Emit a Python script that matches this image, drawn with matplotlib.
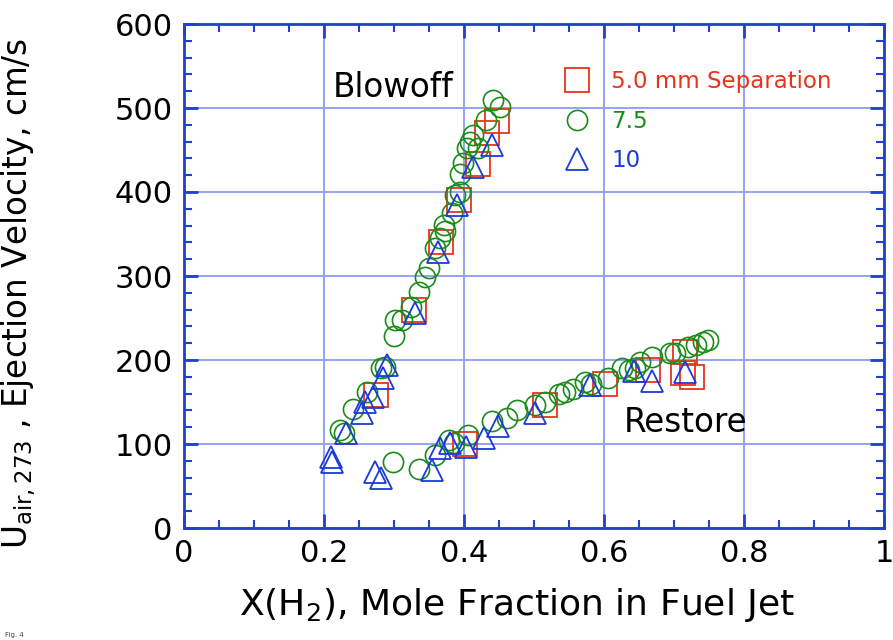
import matplotlib
matplotlib.use("Agg")
import matplotlib.pyplot as plt
from matplotlib.ticker import MultipleLocator

# 5.0 mm separation (squares)
sq_x = [0.275, 0.329, 0.367, 0.393, 0.420, 0.433, 0.447,
        0.401, 0.515, 0.602, 0.663, 0.713, 0.716, 0.726]
sq_y = [158, 260, 340, 391, 433, 470, 484,
        100, 146, 171, 188, 184, 209, 180]

# 7.5 mm separation (circles)
ci_x = [0.223, 0.228, 0.242, 0.261, 0.282, 0.287, 0.300, 0.301, 0.311, 0.324,
        0.336, 0.344, 0.350, 0.359, 0.366, 0.371, 0.373, 0.383, 0.387, 0.394,
        0.394, 0.399, 0.404, 0.409, 0.420, 0.413, 0.431, 0.442, 0.451,
        0.299, 0.336, 0.358, 0.378, 0.385, 0.405, 0.440, 0.461, 0.476, 0.501,
        0.516, 0.536, 0.544, 0.556, 0.573, 0.582, 0.606, 0.625, 0.635, 0.644,
        0.651, 0.668, 0.694, 0.701, 0.720, 0.732, 0.742, 0.749]
ci_y = [117, 113, 142, 162, 190, 192, 229, 248, 248, 263,
        281, 299, 309, 333, 345, 361, 353, 375, 396, 400,
        421, 434, 452, 460, 452, 468, 486, 510, 501,
        79, 70, 87, 105, 101, 111, 127, 131, 141, 146,
        150, 160, 162, 165, 174, 172, 178, 190, 188, 190,
        198, 204, 208, 208, 216, 218, 222, 224]

# 10 mm separation (triangles)
tr_x = [0.210, 0.211, 0.232, 0.255, 0.258, 0.270, 0.285, 0.290, 0.330, 0.363,
        0.390, 0.413, 0.440,
        0.273, 0.282, 0.354, 0.366, 0.380, 0.403, 0.428, 0.448, 0.501, 0.580,
        0.643, 0.668, 0.716]
tr_y = [85, 79, 113, 137, 150, 156, 178, 194, 256, 329,
        385, 430, 456,
        67, 59, 69, 95, 101, 96, 107, 121, 137, 170,
        187, 175, 186]

red = '#e8341c'
green = '#1a8c1a'
blue = '#1a3adb'
axis_blue = '#2040d0'
grid_blue = '#8c9cf0'

fig = plt.figure(figsize=(8.93, 6.4), dpi=100)
ax = fig.add_axes([0.206, 0.175, 0.784, 0.7875])

ax.plot(sq_x, sq_y, 's', ms=17, mfc='none', mec=red, mew=1.3, label='5.0 mm Separation')
ax.plot(ci_x, ci_y, 'o', ms=14.5, mfc='none', mec=green, mew=1.2, label='7.5')
ax.plot(tr_x, tr_y, '^', ms=16, mfc='none', mec=blue, mew=1.3, label='10')

ax.set_xlim(0, 1)
ax.set_ylim(0, 600)
ax.xaxis.set_minor_locator(MultipleLocator(0.05))
ax.yaxis.set_major_locator(MultipleLocator(100))
ax.yaxis.set_minor_locator(MultipleLocator(20))
ax.set_xticks([0, 0.2, 0.4, 0.6, 0.8, 1.0])
ax.set_xticklabels(['0', '0.2', '0.4', '0.6', '0.8', '1'])

ax.grid(True, which='major', color=grid_blue, lw=1.3)
ax.set_axisbelow(True)
for s in ax.spines.values():
    s.set_color(axis_blue)
    s.set_linewidth(2)
ax.tick_params(which='both', direction='in', top=True, right=True, color=axis_blue,
               labelsize=22, pad=8)
ax.tick_params(which='major', length=10, width=2)
ax.tick_params(which='minor', length=6, width=1.5)

ax.set_xlabel('X(H$_2$), Mole Fraction in Fuel Jet', fontsize=26)
ax.set_ylabel('U$_{\\mathrm{air,273}}$ , Ejection Velocity, cm/s', fontsize=23.5)
ax.xaxis.set_label_coords(0.476, -0.115)
ax.yaxis.set_label_coords(-0.208, 0.465)

ax.text(0.299, 524, 'Blowoff', fontsize=23.5, ha='center', va='center')
ax.text(0.717, 126, 'Restore', fontsize=23.5, ha='center', va='center')

leg = ax.legend(loc='upper left', bbox_to_anchor=(0.515, 0.926), frameon=False,
                fontsize=16.5, handletextpad=0.5, labelspacing=0.72,
                labelcolor=[red, green, blue], borderaxespad=0)

fig.text(0.006, 0.004, 'Fig. 4', fontsize=5, color='#444444')

fig.savefig('out.png', dpi=100)
